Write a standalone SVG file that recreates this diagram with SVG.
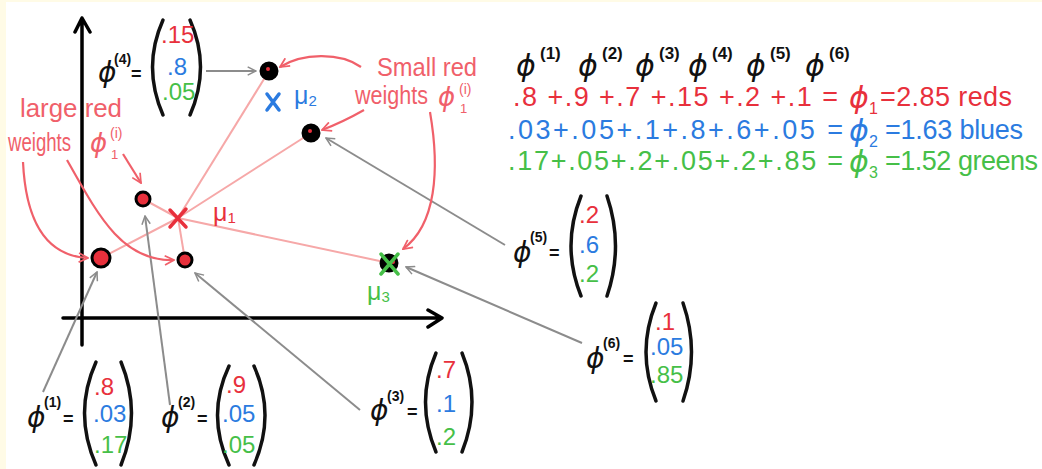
<svg xmlns="http://www.w3.org/2000/svg" width="1042" height="469" viewBox="0 0 1042 469">
<style>
text{font-family:"Liberation Sans","DejaVu Sans",sans-serif}
.phi{font-family:"DejaVu Sans",sans-serif;font-style:italic;fill:#111}
.sup{fill:#111;font-weight:bold}
.eq{fill:#111;font-weight:bold}
.br{fill:none;stroke:#111;stroke-width:3.5;stroke-linecap:round}
.r{fill:#e8303c}.b{fill:#2b7be0}.g{fill:#46bf48}
.ent{font-size:24px}
.ann{fill:#f0606a}
.aphi{font-family:"DejaVu Sans",sans-serif;font-style:italic}
.row{font-size:27px}
.ax{stroke:#000;stroke-width:3.5;fill:none;stroke-linecap:round;stroke-linejoin:round}
.rl{stroke:#f6a8a8;stroke-width:2;fill:none}
.gr{stroke:#8c8c8c;stroke-width:2;fill:none;marker-end:url(#ga)}
.rc{stroke:#f0606a;stroke-width:2.2;fill:none;marker-end:url(#ra)}
.pt{stroke:#000;stroke-width:3}
</style>
<defs>
<marker id="ga" viewBox="0 0 12 12" refX="11" refY="6" markerWidth="10" markerHeight="10" markerUnits="userSpaceOnUse" orient="auto"><path d="M1,1 L11,6 L1,11" fill="none" stroke="#8c8c8c" stroke-width="1.8"/></marker>
<marker id="ra" viewBox="0 0 12 12" refX="11" refY="6" markerWidth="11" markerHeight="11" markerUnits="userSpaceOnUse" orient="auto"><path d="M1,1 L11,6 L1,11" fill="none" stroke="#f0606a" stroke-width="1.9"/></marker>
</defs>
<rect width="1042" height="469" fill="#ffffff"/>
<rect x="0" y="0" width="6" height="469" fill="#fffbe6"/>
<rect x="0" y="0" width="1042" height="2" fill="#fffbe6"/>

<g id="axes">
<path class="ax" d="M82 345 L82 18 M75 32 L82 18 L90 32"/>
<path class="ax" d="M63 318 L442 318 M428 310 L442 318 L428 327"/>
</g>

<g id="connectors">
<g id="center-lines">
<path class="rl" d="M178 218 L101 258"/>
<path class="rl" d="M178 218 L143 199"/>
<path class="rl" d="M178 218 L185 260"/>
<path class="rl" d="M178 218 L269 71"/>
<path class="rl" d="M178 218 L311 133"/>
<path class="rl" d="M178 218 L389 263"/>
</g>
<g id="gray-arrows">
<path class="gr" d="M206 71 L256 71"/>
<path class="gr" d="M505 245 L326 138"/>
<path class="gr" d="M582 343 L406 267"/>
<path class="gr" d="M43 392 L97 272"/>
<path class="gr" d="M170 405 L145 216"/>
<path class="gr" d="M360 410 L195 273"/>
</g>
<g id="red-arrows">
<path class="rc" d="M23 162 C26 225 48 256 88 258"/>
<path class="rc" d="M67 160 C98 215 122 262 174 260"/>
<path class="rc" d="M123 154 L141 183"/>
<path class="rc" d="M361 67 C340 52 302 53 280 67"/>
<path class="rc" d="M364 110 C350 118 335 125 322 130"/>
<path class="rc" d="M430 112 C440 170 436 225 403 249"/>
</g>
</g>

<g id="points">
<circle class="pt r" cx="101" cy="258" r="9"/>
<circle class="pt r" cx="143" cy="199" r="7"/>
<circle class="pt r" cx="185" cy="260" r="7"/>
<circle class="pt" cx="269" cy="71" r="8" fill="#000"/><circle cx="268" cy="69" r="2" fill="#e8303c"/>
<circle class="pt" cx="311" cy="133" r="8" fill="#000"/><circle cx="310" cy="131" r="2" fill="#e8303c"/>
<circle class="pt" cx="389" cy="263" r="8" fill="#000"/><circle cx="393" cy="262" r="2" fill="#e8303c"/>
</g>

<g id="mu1">
<path d="M170 210 L186 227 M186 209 L170 227" stroke="#e8303c" stroke-width="3.5" stroke-linecap="round"/>
<text x="213" y="221" style="font-size:25px" class="r">μ<tspan style="font-size:15px" dy="2">1</tspan></text>
</g>
<g id="mu2">
<path d="M267 94 L279 110 M279 94 L267 110" stroke="#2b7be0" stroke-width="3.5" stroke-linecap="round"/>
<text x="294" y="104" style="font-size:25px" class="b">μ<tspan style="font-size:15px" dy="2">2</tspan></text>
</g>
<g id="mu3">
<path d="M381 254 L398 274 M398 254 L381 274" stroke="#46bf48" stroke-width="3.5" stroke-linecap="round"/>
<text x="367" y="300" style="font-size:25px" class="g">μ<tspan style="font-size:15px" dy="2">3</tspan></text>
</g>

<g id="label-large">
<text class="ann" x="20" y="117" style="font-size:26px" textLength="102" lengthAdjust="spacingAndGlyphs">large red</text>
<text class="ann" x="8" y="151" style="font-size:25px" textLength="63" lengthAdjust="spacingAndGlyphs">weights</text>
<text x="90" y="152" class="ann aphi" style="font-size:26px">ϕ</text>
<text x="111" y="159" class="ann" style="font-size:13px">1</text>
<text x="110" y="138" class="ann" style="font-size:14px">(i)</text>
</g>
<g id="label-small">
<text class="ann" x="377" y="76" style="font-size:25px" textLength="100" lengthAdjust="spacingAndGlyphs">Small red</text>
<text class="ann" x="355" y="104" style="font-size:25px" textLength="73" lengthAdjust="spacingAndGlyphs">weights</text>
<text x="438" y="106" class="ann aphi" style="font-size:26px">ϕ</text>
<text x="460" y="113" class="ann" style="font-size:13px">1</text>
<text x="459" y="94" class="ann" style="font-size:14px">(i)</text>
</g>

<g id="vec4">
<text class="phi" x="98" y="82" style="font-size:28px">ϕ</text><text class="sup" x="114" y="64" style="font-size:14px">(4)</text><text class="eq" x="131" y="80" style="font-size:18px">=</text>
<path class="br" d="M163 20 Q142 67 163 115 M190 20 Q211 67 190 115"/>
<text class="ent r" x="161" y="43">.15</text><text class="ent b" x="167" y="75">.8</text><text class="ent g" x="162" y="100">.05</text>
</g>
<g id="vec1">
<text class="phi" x="27" y="427" style="font-size:28px">ϕ</text><text class="sup" x="44" y="407" style="font-size:14px">(1)</text><text class="eq" x="63" y="425" style="font-size:18px">=</text>
<path class="br" d="M96 362 Q73 413 96 465 M121 362 Q142 413 121 465"/>
<text class="ent r" x="94" y="395">.8</text><text class="ent b" x="93" y="422">.03</text><text class="ent g" x="94" y="453">.17</text>
</g>
<g id="vec2">
<text class="phi" x="161" y="427" style="font-size:28px">ϕ</text><text class="sup" x="178" y="407" style="font-size:14px">(2)</text><text class="eq" x="197" y="425" style="font-size:18px">=</text>
<path class="br" d="M229 366 Q206 415 229 465 M254 366 Q276 415 254 465"/>
<text class="ent r" x="226" y="393">.9</text><text class="ent b" x="222" y="422">.05</text><text class="ent g" x="222" y="453">.05</text>
</g>
<g id="vec3">
<text class="phi" x="370" y="420" style="font-size:28px">ϕ</text><text class="sup" x="387" y="401" style="font-size:14px">(3)</text><text class="eq" x="407" y="418" style="font-size:18px">=</text>
<path class="br" d="M436 353 Q415 402 436 452 M462 353 Q482 402 462 452"/>
<text class="ent r" x="436" y="378">.7</text><text class="ent b" x="436" y="412">.1</text><text class="ent g" x="436" y="445">.2</text>
</g>
<g id="vec5">
<text class="phi" x="513" y="262" style="font-size:28px">ϕ</text><text class="sup" x="530" y="242" style="font-size:14px">(5)</text><text class="eq" x="549" y="259" style="font-size:18px">=</text>
<path class="br" d="M581 196 Q561 246 581 296 M607 196 Q624 246 607 296"/>
<text class="ent r" x="579" y="223">.2</text><text class="ent b" x="579" y="253">.6</text><text class="ent g" x="579" y="282">.2</text>
</g>
<g id="vec6">
<text class="phi" x="586" y="368" style="font-size:28px">ϕ</text><text class="sup" x="603" y="348" style="font-size:14px">(6)</text><text class="eq" x="623" y="365" style="font-size:18px">=</text>
<path class="br" d="M656 303 Q636 352 656 401 M683 303 Q700 352 683 401"/>
<text class="ent r" x="655" y="330">.1</text><text class="ent b" x="650" y="355">.05</text><text class="ent g" x="650" y="383">.85</text>
</g>

<g id="sum-table">
<g id="header">
<text class="phi" x="516" y="76" style="font-size:30px">ϕ</text><text class="sup" x="540" y="59" style="font-size:17px">(1)</text>
<text class="phi" x="578" y="76" style="font-size:30px">ϕ</text><text class="sup" x="602" y="59" style="font-size:17px">(2)</text>
<text class="phi" x="635" y="76" style="font-size:30px">ϕ</text><text class="sup" x="659" y="59" style="font-size:17px">(3)</text>
<text class="phi" x="688" y="76" style="font-size:30px">ϕ</text><text class="sup" x="712" y="59" style="font-size:17px">(4)</text>
<text class="phi" x="746" y="76" style="font-size:30px">ϕ</text><text class="sup" x="770" y="59" style="font-size:17px">(5)</text>
<text class="phi" x="805" y="76" style="font-size:30px">ϕ</text><text class="sup" x="829" y="59" style="font-size:17px">(6)</text>
</g>
<g id="row-red">
<text class="row r" x="513" y="106" textLength="325" lengthAdjust="spacing">.8 +.9 +.7 +.15 +.2 +.1 =</text>
<text class="r aphi" x="849" y="108" style="font-size:30px">ϕ</text><text class="r" x="869" y="114" style="font-size:16px">1</text>
<text class="row r" x="880" y="106" textLength="132" lengthAdjust="spacing">=2.85 reds</text>
</g>
<g id="row-blue">
<text class="row b" x="508" y="139" textLength="335" lengthAdjust="spacing">.03+.05+.1+.8+.6+.05 =</text>
<text class="b aphi" x="849" y="141" style="font-size:30px">ϕ</text><text class="b" x="869" y="147" style="font-size:16px">2</text>
<text class="row b" x="885" y="139" textLength="138" lengthAdjust="spacing">=1.63 blues</text>
</g>
<g id="row-green">
<text class="row g" x="508" y="170" textLength="335" lengthAdjust="spacing">.17+.05+.2+.05+.2+.85 =</text>
<text class="g aphi" x="849" y="172" style="font-size:30px">ϕ</text><text class="g" x="869" y="178" style="font-size:16px">3</text>
<text class="row g" x="885" y="170" textLength="153" lengthAdjust="spacing">=1.52 greens</text>
</g>
</g>
</svg>
